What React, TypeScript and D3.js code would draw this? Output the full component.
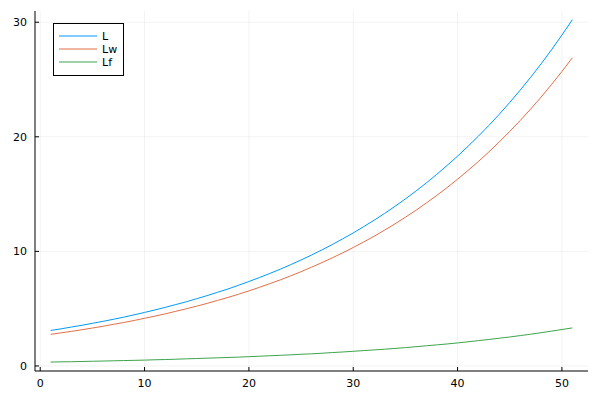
import React from "react";
import * as d3 from "d3";

const xs: number[] = Array.from({ length: 51 }, (_, i) => i + 1);

const L: number[] = [
  3.10, 3.24, 3.40, 3.55, 3.72, 3.89, 4.07, 4.26, 4.46, 4.67,
  4.89, 5.12, 5.36, 5.60, 5.87, 6.14, 6.43, 6.72, 7.04, 7.37,
  7.71, 8.07, 8.44, 8.84, 9.25, 9.68, 10.13, 10.60, 11.10, 11.61,
  12.16, 12.72, 13.31, 13.93, 14.58, 15.26, 15.97, 16.72, 17.50, 18.31,
  19.17, 20.06, 20.99, 21.97, 23.00, 24.07, 25.19, 26.36, 27.59, 28.88,
  30.22,
];

const Lw: number[] = [
  2.76, 2.89, 3.02, 3.16, 3.31, 3.46, 3.63, 3.79, 3.97, 4.16,
  4.35, 4.55, 4.77, 4.99, 5.22, 5.46, 5.72, 5.98, 6.26, 6.55,
  6.86, 7.18, 7.51, 7.86, 8.23, 8.62, 9.02, 9.44, 9.88, 10.34,
  10.82, 11.32, 11.85, 12.40, 12.98, 13.58, 14.22, 14.88, 15.57, 16.30,
  17.06, 17.85, 18.68, 19.56, 20.47, 21.42, 22.42, 23.46, 24.56, 25.70,
  26.90,
];

const Lf: number[] = [
  0.34, 0.36, 0.37, 0.39, 0.41, 0.43, 0.45, 0.47, 0.49, 0.51,
  0.54, 0.56, 0.59, 0.62, 0.65, 0.68, 0.71, 0.74, 0.77, 0.81,
  0.85, 0.89, 0.93, 0.97, 1.02, 1.06, 1.11, 1.17, 1.22, 1.28,
  1.34, 1.40, 1.46, 1.53, 1.60, 1.68, 1.76, 1.84, 1.92, 2.01,
  2.11, 2.21, 2.31, 2.42, 2.53, 2.65, 2.77, 2.90, 3.04, 3.18,
  3.32,
];

const seriesNames = ["L", "Lw", "Lf"];
const seriesColors = ["#009AFA", "#E36F47", "#3EA44E"];
const xTicks = [0, 10, 20, 30, 40, 50];
const yTicks = [0, 10, 20, 30];

export default function App() {
  const W = 600, H = 400;
  const left = 35, right = 588, top = 11, bottom = 371;
  const x = d3.scaleLinear().domain([-0.5, 52.5]).range([left, right]);
  const y = d3.scaleLinear().domain([-0.44, 30.98]).range([bottom, top]);
  const series = [L, Lw, Lf];
  const line = (vals: number[]) =>
    d3.line<number>().x((_, i) => x(xs[i])).y((v) => y(v))(vals) || "";
  const font = "DejaVu Sans, sans-serif";
  return (
    <svg width={W} height={H} style={{ position: "absolute", left: 0, top: 0, background: "#fff" }}>
      <rect x={0} y={0} width={W} height={H} fill="#fff" />
      {xTicks.map((t) => (
        <line key={"gx" + t} x1={x(t)} x2={x(t)} y1={top} y2={bottom} stroke="#000" strokeOpacity={0.1} strokeWidth={0.5} />
      ))}
      {yTicks.map((t) => (
        <line key={"gy" + t} x1={left} x2={right} y1={y(t)} y2={y(t)} stroke="#000" strokeOpacity={0.1} strokeWidth={0.5} />
      ))}
      {series.map((s, i) => (
        <path key={i} d={line(s)} fill="none" stroke={seriesColors[i]} strokeWidth={1} />
      ))}
      <line x1={left} x2={right} y1={bottom} y2={bottom} stroke="#000" strokeWidth={1} />
      <line x1={left} x2={left} y1={top} y2={bottom} stroke="#000" strokeWidth={1} />
      {xTicks.map((t) => (
        <g key={"tx" + t}>
          <line x1={x(t)} x2={x(t)} y1={bottom} y2={bottom - 4} stroke="#000" strokeWidth={1} />
          <text x={x(t)} y={387} textAnchor="middle" fontFamily={font} fontSize={11} fill="#000">{t}</text>
        </g>
      ))}
      {yTicks.map((t) => (
        <g key={"ty" + t}>
          <line x1={left} x2={left + 4} y1={y(t)} y2={y(t)} stroke="#000" strokeWidth={1} />
          <text x={27} y={y(t) + 4} textAnchor="end" fontFamily={font} fontSize={11} fill="#000">{t}</text>
        </g>
      ))}
      <rect x={53.5} y={23.5} width={70} height={52} fill="#fff" stroke="#000" strokeWidth={1} />
      {seriesNames.map((n, i) => (
        <g key={"lg" + n}>
          <line x1={59} x2={97} y1={36 + i * 13} y2={36 + i * 13} stroke={seriesColors[i]} strokeWidth={1} />
          <text x={102} y={40 + i * 13} fontFamily={font} fontSize={11} fill="#000">{n}</text>
        </g>
      ))}
    </svg>
  );
}
